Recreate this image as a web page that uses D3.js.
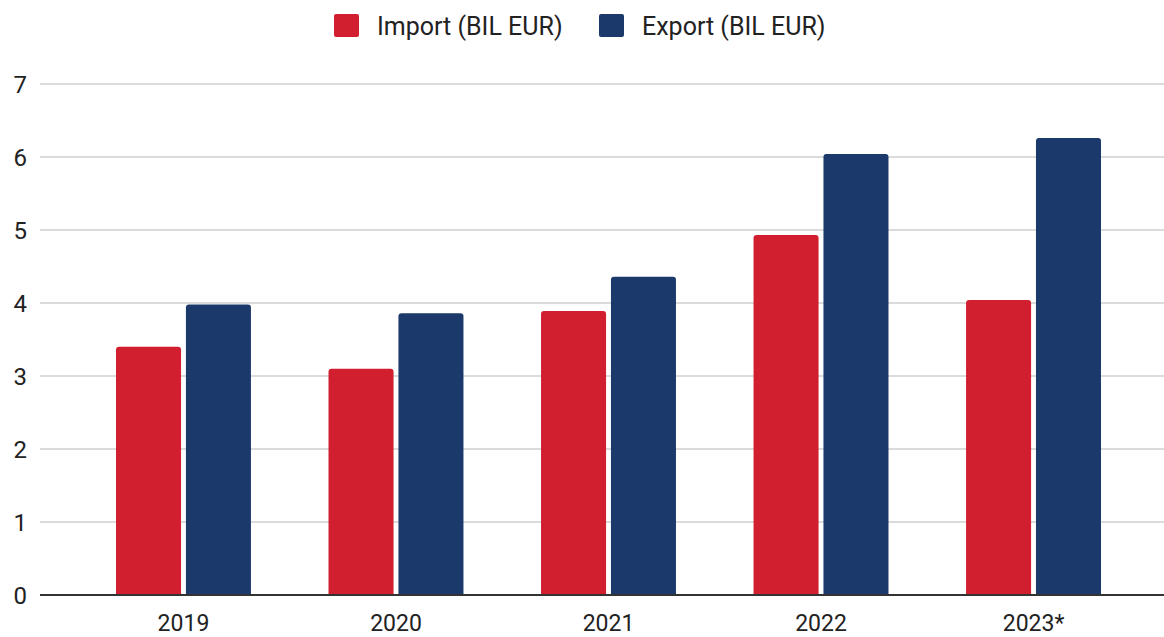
<!DOCTYPE html>
<html>
<head>
<meta charset="utf-8">
<script src="https://cdn.jsdelivr.net/npm/d3@7"></script>
<style>
  body { margin: 0; background: #fff; }
  text { font-family: Roboto, "Noto Sans", sans-serif; }
</style>
</head>
<body>
<script>
// data
var years = ["2019", "2020", "2021", "2022", "2023*"];
var importVals = [3.40, 3.10, 3.89, 4.93, 4.04];
var exportVals = [3.98, 3.86, 4.36, 6.04, 6.26];
var seriesNames = ["Import (BIL EUR)", "Export (BIL EUR)"];
var seriesColors = ["#d21f30", "#1b3a6b"];
var yTicks = [0, 1, 2, 3, 4, 5, 6, 7];

var width = 1164;
var height = 637;

var svg = d3.select("body").append("svg")
    .attr("width", width)
    .attr("height", height);

var y = d3.scaleLinear().domain([0, 7]).range([595, 84]);

var x0 = d3.scaleBand().domain(years).range([116, 1101])
    .paddingInner(0.365).paddingOuter(0);
var x1 = d3.scaleBand().domain([0, 1]).range([0, x0.bandwidth()]).paddingInner(0.07);

// grid
svg.append("g").selectAll("line")
    .data(yTicks.filter(function(d) { return d > 0; }))
    .enter().append("line")
    .attr("x1", 40).attr("x2", width)
    .attr("y1", function(d) { return y(d); })
    .attr("y2", function(d) { return y(d); })
    .attr("stroke", "#cfcfcf")
    .attr("stroke-width", 1.5);

// y labels
svg.append("g").selectAll("text")
    .data(yTicks)
    .enter().append("text")
    .attr("x", 27)
    .attr("y", function(d) { return y(d) + 9; })
    .attr("text-anchor", "end")
    .style("font-size", "24px")
    .attr("fill", "#222")
    .text(function(d) { return d; });

// bars with rounded tops
function barPath(x, yt, w, yb, r) {
  return "M" + x + "," + yb +
    "V" + (yt + r) +
    "Q" + x + "," + yt + " " + (x + r) + "," + yt +
    "H" + (x + w - r) +
    "Q" + (x + w) + "," + yt + " " + (x + w) + "," + (yt + r) +
    "V" + yb + "Z";
}

var rows = years.map(function(yr, i) {
  return { year: yr, vals: [importVals[i], exportVals[i]] };
});

var groups = svg.append("g").selectAll("g")
    .data(rows)
    .enter().append("g")
    .attr("transform", function(d) { return "translate(" + x0(d.year) + ",0)"; });

groups.selectAll("path")
    .data(function(d) { return d.vals.map(function(v, k) { return { k: k, v: v }; }); })
    .enter().append("path")
    .attr("d", function(d) { return barPath(x1(d.k), y(d.v), x1.bandwidth(), y(0), 3); })
    .attr("fill", function(d) { return seriesColors[d.k]; });

// baseline
svg.append("line")
    .attr("x1", 40).attr("x2", width)
    .attr("y1", y(0)).attr("y2", y(0))
    .attr("stroke", "#333")
    .attr("stroke-width", 2);

// x labels
svg.append("g").selectAll("text")
    .data(years)
    .enter().append("text")
    .attr("x", function(d) { return x0(d) + x0.bandwidth() / 2; })
    .attr("y", 631)
    .attr("text-anchor", "middle")
    .style("font-size", "23px")
    .attr("fill", "#222")
    .text(function(d) { return d; });

// legend
var legendX = [334, 599];
var legend = svg.append("g").selectAll("g")
    .data(seriesNames)
    .enter().append("g")
    .attr("transform", function(d, i) { return "translate(" + legendX[i] + ",14)"; });

legend.append("rect")
    .attr("width", 25).attr("height", 23).attr("rx", 2)
    .attr("fill", function(d, i) { return seriesColors[i]; });

legend.append("text")
    .attr("x", 43).attr("y", 21)
    .style("font-size", "25px")
    .attr("fill", "#222")
    .text(function(d) { return d; });
</script>
</body>
</html>
